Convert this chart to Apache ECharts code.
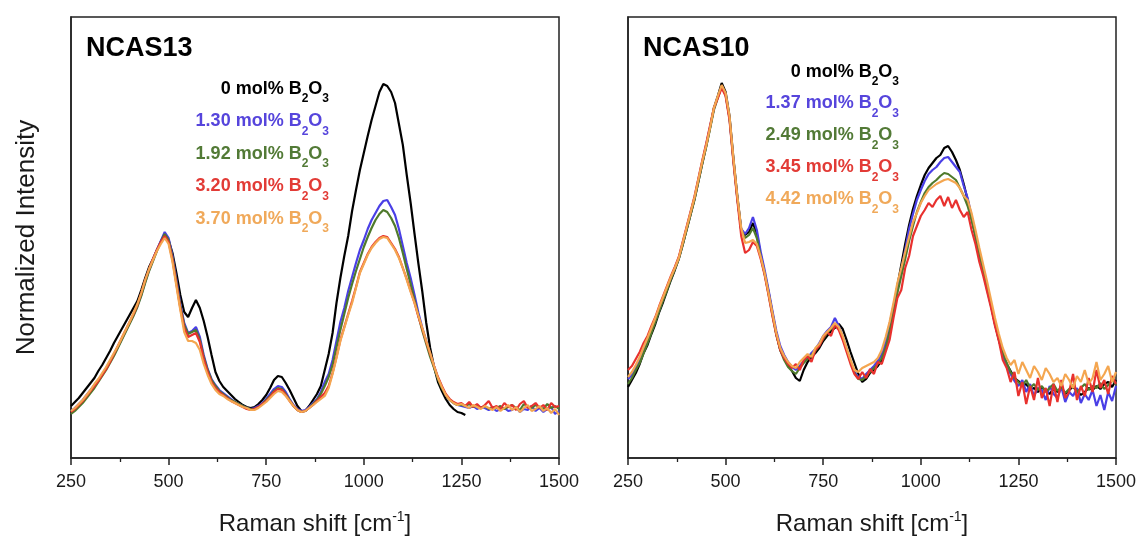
<!DOCTYPE html>
<html>
<head>
<meta charset="utf-8">
<title>Raman spectra NCAS13 / NCAS10</title>
<script src="https://cdn.jsdelivr.net/npm/echarts@6/dist/echarts.min.js"></script>
<style>
  html, body { margin: 0; padding: 0; background: #ffffff; overflow: hidden; }
  #chart { width: 1138px; height: 538px; }
</style>
</head>
<body>
<div id="chart"></div>
<script>
// Raman shift sampling grid (cm-1): uniform 10 cm-1 steps from 250
const SHIFT_START = 250;
const SHIFT_STEP = 10;

// Tick values of the shared Raman-shift axis
const shiftTicks = [250, 500, 750, 1000, 1250, 1500];

// Sample labels (mol% B2O3) per glass family
const labelsNCAS13 = ['0', '1.30', '1.92', '3.20', '3.70'];
const labelsNCAS10 = ['0', '1.37', '2.49', '3.45', '4.42'];

// NCAS13 normalized intensities (a.u.)
const ncas13_0 = [
  52,56,60,65,70,75,80,87,93,100,
  107,115,122,129,136,143,150,157,168,180,
  191,199,208,216,224,218,205,185,163,146,
  141,150,158,150,137,121,103,86,77,71,
  67,63,59,56,53,51,50,51,54,58,
  63,70,78,82,81,75,68,60,52,47,
  47,52,58,64,72,88,104,125,155,180,
  202,222,247,268,288,305,322,338,352,366,
  374,372,366,355,334,313,283,255,224,194,
  166,135,110,91,76,67,59,53,49,46,
  45,43
];
const ncas13_130 = [
  47,50,54,58,63,68,73,78,84,90,
  97,104,111,119,127,135,143,152,163,176,
  188,198,208,217,226,220,202,178,154,135,
  125,127,131,121,103,89,79,73,68,65,
  62,59,56,54,52,50,49,50,52,55,
  59,64,69,72,71,66,59,53,49,47,
  48,51,55,59,66,76,84,98,117,136,
  150,167,181,195,208,218,229,238,245,252,
  257,258,251,243,229,212,195,180,163,145,
  130,117,104,92,80,71,63,58,55,53,
  52,51,50,52,49,51,50,48,50,47,
  49,50,47,48,51,46,49,48,52,47,
  50,46,49,51,44,47
];
const ncas13_192 = [
  44,47,51,55,60,65,70,76,82,88,
  95,102,110,118,126,134,142,151,162,175,
  187,197,207,216,224,218,200,176,152,133,
  124,126,128,118,101,88,78,72,67,64,
  61,58,56,54,52,50,49,49,51,54,
  58,62,67,70,69,64,58,52,48,46,
  47,50,54,58,64,72,81,93,111,128,
  144,160,174,187,199,211,221,230,238,244,
  248,246,240,232,220,205,189,174,158,142,
  127,114,101,90,79,70,63,58,55,53,
  53,52,54,51,53,50,52,49,51,50,
  52,49,51,53,50,48,54,51,50,53,
  51,49,54,50,52,49
];
const ncas13_320 = [
  46,49,53,57,62,67,72,77,83,89,
  96,104,112,120,128,136,144,153,165,178,
  189,199,208,216,222,216,198,174,150,130,
  121,123,125,116,99,86,76,70,66,63,
  60,57,55,53,51,49,48,49,51,54,
  57,61,66,69,68,63,57,52,48,46,
  47,50,53,57,61,65,72,85,101,118,
  131,144,157,171,186,195,204,211,216,220,
  222,221,215,209,201,190,179,167,155,141,
  129,116,104,92,81,72,64,59,56,54,
  55,52,56,51,54,50,53,57,50,52,
  49,55,51,53,48,54,57,50,52,55,
  50,53,48,55,51,52
];
const ncas13_370 = [
  47,50,54,58,63,68,74,79,85,91,
  98,105,112,120,128,136,145,154,165,178,
  189,198,207,214,220,214,196,172,148,126,
  117,117,115,108,94,83,74,68,64,62,
  59,57,55,53,51,50,48,48,50,53,
  56,60,64,67,66,62,57,52,48,46,
  47,50,53,56,59,62,70,84,100,117,
  130,143,155,170,185,194,203,210,215,219,
  221,220,214,208,200,190,178,166,155,142,
  130,117,105,92,80,71,63,58,55,53,
  54,52,50,53,51,49,52,50,48,51,
  47,50,53,48,51,46,50,53,47,49,
  52,47,50,45,49,43
];

// NCAS10 normalized intensities (a.u.)
const ncas10_0 = [
  71,78,85,94,105,113,124,134,146,156,
  167,178,188,199,213,228,243,258,276,294,
  311,330,350,362,375,366,342,300,262,228,
  223,226,235,224,203,185,166,145,124,108,
  100,93,87,80,77,88,96,101,105,110,
  117,122,127,130,134,129,118,106,95,84,
  76,79,85,88,92,98,110,128,150,172,
  193,214,233,249,262,273,283,290,295,300,
  303,310,312,306,298,288,274,258,240,222,
  205,188,170,153,134,118,104,94,87,80,
  77,72,74,68,70,66,71,67,64,69,
  66,70,64,68,71,67,63,66,70,68,
  72,69,74,76,71,78
];
const ncas10_137 = [
  79,83,90,97,107,116,127,137,148,159,
  170,180,190,200,215,230,245,260,278,296,
  313,331,349,361,372,364,340,298,260,229,
  224,230,241,228,206,188,168,147,127,112,
  103,96,91,88,92,97,100,105,109,115,
  122,127,131,140,132,121,109,97,86,81,
  79,84,88,92,97,104,116,134,152,170,
  188,208,229,244,258,268,277,284,288,291,
  296,300,301,296,291,286,272,260,242,223,
  203,186,168,152,134,119,103,92,84,77,
  72,78,66,74,62,70,68,58,72,64,
  60,71,56,66,62,70,55,64,58,68,
  52,63,48,66,57,72
];
const ncas10_249 = [
  74,80,88,95,105,115,125,136,147,158,
  168,179,189,199,213,228,243,258,276,294,
  311,329,348,360,372,363,340,298,260,228,
  220,223,230,220,201,184,164,143,123,108,
  98,91,87,84,90,95,99,103,107,113,
  119,125,129,134,130,120,108,96,85,79,
  78,82,86,90,94,100,110,126,145,165,
  182,199,217,232,246,256,265,271,275,278,
  282,285,284,281,278,270,262,252,238,222,
  204,188,171,154,136,120,106,95,86,80,
  76,72,78,70,74,68,72,66,70,74,
  67,71,65,69,73,66,70,74,68,72,
  70,75,69,73,78,74
];
const ncas10_345 = [
  88,92,99,106,115,122,132,141,152,162,
  172,182,191,201,216,231,246,261,279,297,
  314,332,350,360,370,362,338,296,258,222,
  205,208,216,212,199,183,163,142,123,108,
  100,94,90,94,88,98,102,96,108,112,
  120,126,122,133,128,118,106,94,84,79,
  86,80,89,84,96,94,106,118,140,160,
  168,190,202,222,232,242,248,255,251,258,
  262,252,261,250,258,248,241,246,228,214,
  196,182,166,150,132,117,98,90,76,86,
  62,76,54,72,58,80,60,70,52,74,
  56,78,60,66,84,58,72,62,80,66,
  88,70,78,64,82,74
];
const ncas10_442 = [
  81,86,93,101,111,120,130,140,151,161,
  171,181,190,200,215,230,245,260,278,296,
  312,330,350,362,373,365,342,300,262,230,
  215,216,218,214,201,185,165,145,125,110,
  102,96,92,90,96,100,104,101,110,114,
  122,126,130,135,131,122,110,98,88,86,
  90,92,94,96,100,108,121,136,155,175,
  190,206,221,236,245,255,262,268,271,274,
  276,278,279,277,275,270,262,258,245,228,
  210,193,176,158,140,124,110,100,93,98,
  84,96,88,80,92,86,78,90,84,76,
  80,72,84,78,70,82,76,88,74,80,
  96,78,84,92,76,86
];

// Line / label colours per composition rank
const lineColors = ['#000000', '#4a3fe6', '#4f7a2c', '#e8312e', '#f4a650'];
const textColors = ['#000000', '#5645dc', '#527a36', '#e23b36', '#f0a95a'];

const FONT = 'Liberation Sans, Arial, sans-serif';

function toPairs(values) {
  return values.map((v, i) => [SHIFT_START + i * SHIFT_STEP, v]);
}

function lineSeries(name, values, color, axisIndex) {
  return {
    name: name,
    type: 'line',
    xAxisIndex: axisIndex,
    yAxisIndex: axisIndex,
    data: toPairs(values),
    showSymbol: false,
    symbol: 'none',
    smooth: false,
    lineStyle: { color: color, width: 2.2 },
    itemStyle: { color: color },
    silent: true,
    animation: false,
    z: 2
  };
}

function xAxisFor(gridIndex) {
  return {
    type: 'value',
    gridIndex: gridIndex,
    min: shiftTicks[0],
    max: shiftTicks[shiftTicks.length - 1],
    interval: shiftTicks[1] - shiftTicks[0],
    name: 'Raman shift [cm{sup|-1}]',
    nameLocation: 'middle',
    nameGap: 52,
    nameTextStyle: {
      fontFamily: FONT, fontSize: 24, color: '#1a1a1a',
      rich: { sup: { fontFamily: FONT, fontSize: 14, color: '#1a1a1a', padding: [0, 0, 14, 0] } }
    },
    axisLine: { show: true, onZero: false, lineStyle: { color: '#222', width: 1.5 } },
    axisTick: { show: true, inside: false, length: 7, lineStyle: { color: '#222', width: 1.5 } },
    minorTick: { show: true, splitNumber: 2, length: 4, lineStyle: { color: '#222', width: 1.3 } },
    axisLabel: {
      show: true, margin: 15, fontFamily: FONT, fontSize: 18, color: '#1a1a1a',
      showMinLabel: true, showMaxLabel: true,
      formatter: (v) => String(v)
    },
    splitLine: { show: false },
    minorSplitLine: { show: false }
  };
}

function yAxisFor(gridIndex, name) {
  return {
    type: 'value',
    gridIndex: gridIndex,
    min: 0,
    max: 441,
    name: name,
    nameLocation: 'middle',
    nameGap: 31,
    nameTextStyle: { fontFamily: FONT, fontSize: 26, color: '#1a1a1a' },
    axisLine: { show: true, onZero: false, lineStyle: { color: '#222', width: 1.5 } },
    axisTick: { show: false },
    axisLabel: { show: false },
    splitLine: { show: false }
  };
}

function legendText(label, color, xRight, yMid) {
  return {
    type: 'text',
    x: xRight,
    y: yMid,
    silent: true,
    style: {
      text: '{m|' + label + ' mol% B}{s|2}{m|O}{s|3}',
      align: 'right',
      verticalAlign: 'middle',
      textAlign: 'right',
      textVerticalAlign: 'middle',
      rich: {
        m: { fontFamily: FONT, fontSize: 18, fontWeight: 'bold', fill: color },
        s: { fontFamily: FONT, fontSize: 12, fontWeight: 'bold', fill: color, padding: [20, 0, 0, 0] }
      }
    }
  };
}

function panelTitle(text, xLeft, yMid) {
  return {
    type: 'text',
    x: xLeft,
    y: yMid,
    silent: true,
    style: {
      text: text,
      fill: '#000',
      font: 'bold 27px ' + FONT,
      align: 'left',
      verticalAlign: 'middle',
      textAlign: 'left',
      textVerticalAlign: 'middle'
    }
  };
}

const graphics = [
  panelTitle('NCAS13', 86, 49),
  panelTitle('NCAS10', 643, 49)
];
const leftRows = [89, 121.5, 154, 186.5, 219];
const rightRows = [72, 103.5, 135.5, 167.5, 199.5];
labelsNCAS13.forEach((lab, i) => graphics.push(legendText(lab, textColors[i], 329, leftRows[i])));
labelsNCAS10.forEach((lab, i) => graphics.push(legendText(lab, textColors[i], 899, rightRows[i])));

const leftData = [ncas13_0, ncas13_130, ncas13_192, ncas13_320, ncas13_370];
const rightData = [ncas10_0, ncas10_137, ncas10_249, ncas10_345, ncas10_442];

const series = [];
leftData.forEach((vals, i) => series.push(lineSeries('NCAS13 ' + labelsNCAS13[i] + ' mol% B2O3', vals, lineColors[i], 0)));
rightData.forEach((vals, i) => series.push(lineSeries('NCAS10 ' + labelsNCAS10[i] + ' mol% B2O3', vals, lineColors[i], 1)));

// Fixed plot frames; axis names sit outside them without shrinking the grids
const gridBase = {
  top: 17, width: 488, height: 441, show: true,
  borderColor: '#222', borderWidth: 1.5, backgroundColor: 'transparent',
  containLabel: false, outerBoundsMode: 'none'
};

const chart = echarts.init(document.getElementById('chart'), null, { renderer: 'canvas' });
chart.setOption({
  backgroundColor: '#ffffff',
  animation: false,
  grid: [
    Object.assign({ left: 71 }, gridBase),
    Object.assign({ left: 628 }, gridBase)
  ],
  xAxis: [xAxisFor(0), xAxisFor(1)],
  yAxis: [yAxisFor(0, 'Normalized Intensity'), yAxisFor(1, '')],
  series: series,
  graphic: graphics
});
</script>
</body>
</html>
